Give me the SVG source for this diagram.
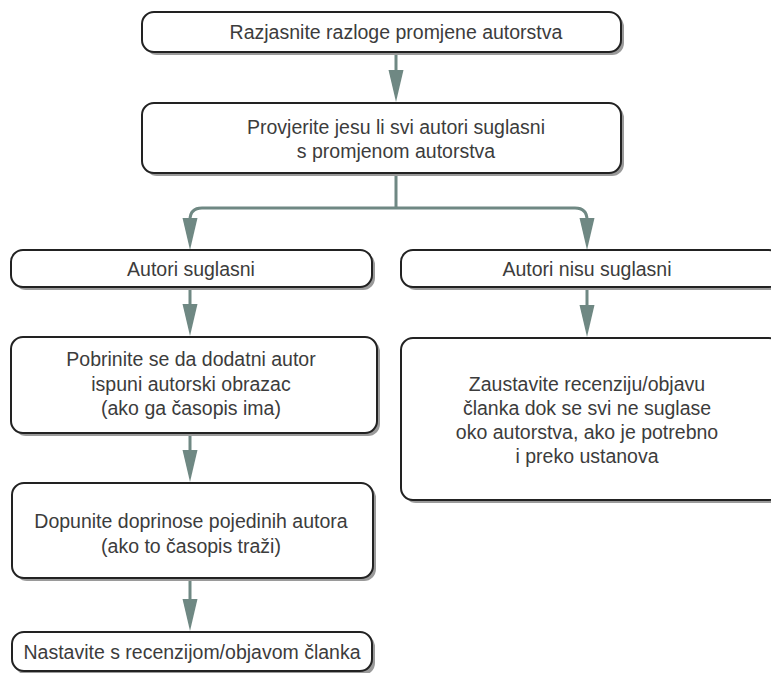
<svg xmlns="http://www.w3.org/2000/svg" width="771" height="673" viewBox="0 0 771 673">
<style>
.sh{fill:#9a9a9a;stroke:none}
.bx{fill:#fff;stroke:#222;stroke-width:2}
text{font-family:"Liberation Sans",Arial,sans-serif;font-size:19.5px;fill:#3c3c3c;text-anchor:middle}
.c{fill:none;stroke:#6f8883;stroke-width:3}
.ah{fill:#6f8883}
</style>
<defs>
<path id="ah" class="ah" d="M-7.5,-32 L7.5,-32 L0,0 Z"/>
</defs>
<g id="connectors">
<path class="c" d="M396,53 V72"/>
<use href="#ah" x="396" y="102"/>
<path class="c" d="M396,174 V208 M396,208 H202 Q190,208 190,220 V222"/>
<use href="#ah" x="190" y="250"/>
<path class="c" d="M396,208 H575 Q587,208 587,220 V222"/>
<use href="#ah" x="587" y="250"/>
<path class="c" d="M190,288 V306"/>
<use href="#ah" x="190" y="336"/>
<path class="c" d="M587,288 V306"/>
<use href="#ah" x="587" y="337"/>
<path class="c" d="M190,434 V452"/>
<use href="#ah" x="190" y="482"/>
<path class="c" d="M190,579 V601"/>
<use href="#ah" x="190" y="631"/>
</g>
<g id="n1">
<rect class="sh" x="145" y="15" width="479" height="40" rx="12"/>
<rect class="bx" x="142" y="12" width="479" height="40" rx="12"/>
<text x="396" y="39">Razjasnite razloge promjene autorstva</text>
</g>
<g id="n2">
<rect class="sh" x="145" y="106" width="479" height="70" rx="12"/>
<rect class="bx" x="142" y="103" width="479" height="70" rx="12"/>
<text x="396" y="134">Provjerite jesu li svi autori suglasni</text>
<text x="396" y="158">s promjenom autorstva</text>
</g>
<g id="n3">
<rect class="sh" x="14" y="253" width="361" height="37" rx="12"/>
<rect class="bx" x="11" y="250" width="361" height="37" rx="12"/>
<text x="191" y="276">Autori suglasni</text>
</g>
<g id="n4">
<rect class="sh" x="404" y="253" width="380" height="37" rx="12"/>
<rect class="bx" x="401" y="250" width="380" height="37" rx="12"/>
<text x="587" y="276">Autori nisu suglasni</text>
</g>
<g id="n5">
<rect class="sh" x="14" y="340" width="366" height="96" rx="12"/>
<rect class="bx" x="11" y="337" width="366" height="96" rx="12"/>
<text x="191" y="366">Pobrinite se da dodatni autor</text>
<text x="191" y="391">ispuni autorski obrazac</text>
<text x="191" y="415">(ako ga časopis ima)</text>
</g>
<g id="n6">
<rect class="sh" x="15" y="486" width="361" height="95" rx="12"/>
<rect class="bx" x="12" y="483" width="361" height="95" rx="12"/>
<text x="191" y="528">Dopunite doprinose pojedinih autora</text>
<text x="191" y="553">(ako to časopis traži)</text>
</g>
<g id="n7">
<rect class="sh" x="15" y="635" width="360" height="40" rx="12"/>
<rect class="bx" x="12" y="632" width="360" height="39" rx="12"/>
<text x="192" y="659">Nastavite s recenzijom/objavom članka</text>
</g>
<g id="n8">
<rect class="sh" x="404" y="341" width="380" height="162" rx="12"/>
<rect class="bx" x="401" y="338" width="380" height="162" rx="12"/>
<text x="587" y="391">Zaustavite recenziju/objavu</text>
<text x="587" y="415">članka dok se svi ne suglase</text>
<text x="587" y="439">oko autorstva, ako je potrebno</text>
<text x="587" y="463">i preko ustanova</text>
</g>
</svg>
